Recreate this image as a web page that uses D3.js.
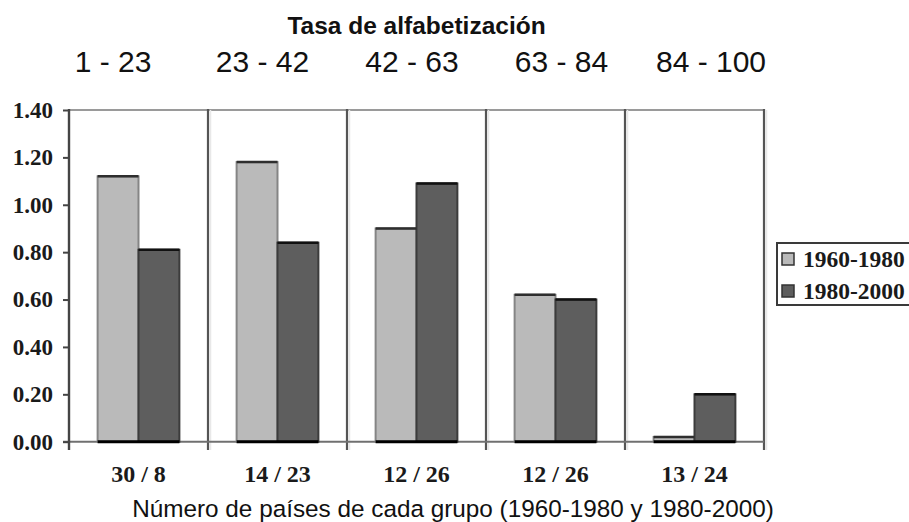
<!DOCTYPE html>
<html>
<head>
<meta charset="utf-8">
<script src="https://cdn.jsdelivr.net/npm/d3@7"></script>
<style>
    html, body { margin: 0; padding: 0; background: #fff; }
    svg { display: block; }
    .serif { font-family: 'Liberation Serif', 'Times New Roman', serif; font-weight: bold; fill: #1a1a1a; }
    .sans { font-family: 'Liberation Sans', Arial, sans-serif; fill: #111; }
</style>
</head>
<body>
<div id="chart"></div>
<script>
'use strict';

// Data
const ranges = ['1 - 23', '23 - 42', '42 - 63', '63 - 84', '84 - 100'];
const groupLabels = ['30 / 8', '14 / 23', '12 / 26', '12 / 26', '13 / 24'];
const seriesNames = ['1960-1980', '1980-2000'];
const values6080 = [1.12, 1.18, 0.90, 0.62, 0.02];
const values8000 = [0.81, 0.84, 1.09, 0.60, 0.20];
const yTicks = [0, 0.2, 0.4, 0.6, 0.8, 1.0, 1.2, 1.4];
const chartTitle = 'Tasa de alfabetización';
const xTitle = 'Número de países de cada grupo (1960-1980 y 1980-2000)';

/*
Bars
 */
class Bars {

    // Configs
    svgW = 909;
    svgH = 522;
    plot = {left: 69, right: 764, top: 110, bottom: 441.7};
    colors = {'1960-1980': '#bababa', '1980-2000': '#5e5e5e'};

    constructor(_target) {
        this.target = _target;
        this.init();
    }

    init() {
        const vis = this;

        vis.svg = d3.select(`#${vis.target}`)
            .append('svg')
            .attr('width', vis.svgW)
            .attr('height', vis.svgH);

        // Scales
        vis.xScale = d3.scaleBand()
            .domain(d3.range(groupLabels.length))
            .range([vis.plot.left, vis.plot.right]);
        vis.subScale = d3.scaleBand()
            .domain(seriesNames)
            .range([0, vis.xScale.bandwidth()])
            .paddingOuter(0.7);
        vis.yScale = d3.scaleLinear()
            .domain([0, 1.4])
            .range([vis.plot.bottom, vis.plot.top]);
        vis.headScale = d3.scalePoint()
            .domain(ranges)
            .range([113, 711]);

        vis.rows = d3.range(groupLabels.length).map(i => ({
            i: i,
            bars: [
                {s: seriesNames[0], v: values6080[i]},
                {s: seriesNames[1], v: values8000[i]}
            ]
        }));

        vis.render();
    }

    render() {
        const vis = this;
        const p = vis.plot;

        // Frame: top line
        vis.svg.append('line')
            .attr('x1', p.left).attr('x2', p.right)
            .attr('y1', p.top).attr('y2', p.top)
            .attr('stroke', '#9a9a9a').attr('stroke-width', 2);

        // Group dividers (with faint ghost line)
        const edges = d3.range(groupLabels.length).map(i => vis.xScale(i) + vis.xScale.bandwidth());
        vis.svg.selectAll('.ghost')
            .data(edges)
            .join('line')
            .attr('class', 'ghost')
            .attr('x1', d => d + 2.5).attr('x2', d => d + 2.5)
            .attr('y1', p.top).attr('y2', 450)
            .attr('stroke', '#e8e8e8').attr('stroke-width', 1.5);
        vis.svg.selectAll('.divider')
            .data(edges)
            .join('line')
            .attr('class', 'divider')
            .attr('x1', d => d).attr('x2', d => d)
            .attr('y1', p.top - 1).attr('y2', 450)
            .attr('stroke', '#555').attr('stroke-width', 2.2);

        // Baseline
        vis.svg.append('line')
            .attr('x1', p.left - 6).attr('x2', p.right)
            .attr('y1', vis.yScale(0)).attr('y2', vis.yScale(0))
            .attr('stroke', '#707070').attr('stroke-width', 2);

        // Bars
        const groups = vis.svg.selectAll('.group')
            .data(vis.rows)
            .join('g')
            .attr('class', 'group')
            .attr('transform', d => `translate(${vis.xScale(d.i)},0)`);

        groups.selectAll('.bar')
            .data(d => d.bars)
            .join('rect')
            .attr('class', 'bar')
            .attr('x', d => vis.subScale(d.s))
            .attr('y', d => vis.yScale(d.v))
            .attr('width', vis.subScale.bandwidth())
            .attr('height', d => vis.yScale(0) - vis.yScale(d.v))
            .attr('fill', d => vis.colors[d.s])
            .attr('stroke', d => d.s === seriesNames[0] ? '#858585' : '#3c3c3c')
            .attr('stroke-width', 2);

        groups.selectAll('.barTop')
            .data(d => d.bars)
            .join('line')
            .attr('class', 'barTop')
            .attr('x1', d => vis.subScale(d.s))
            .attr('x2', d => vis.subScale(d.s) + vis.subScale.bandwidth())
            .attr('y1', d => vis.yScale(d.v))
            .attr('y2', d => vis.yScale(d.v))
            .attr('stroke', d => d.s === seriesNames[0] ? '#2e2e2e' : '#111')
            .attr('stroke-width', 2.5);

        groups.append('line')
            .attr('x1', vis.subScale(seriesNames[0]))
            .attr('x2', vis.subScale(seriesNames[1]) + vis.subScale.bandwidth())
            .attr('y1', vis.yScale(0)).attr('y2', vis.yScale(0))
            .attr('stroke', '#000').attr('stroke-width', 3);

        // Left axis line
        vis.svg.append('line')
            .attr('x1', p.left).attr('x2', p.left)
            .attr('y1', p.top - 1).attr('y2', 450)
            .attr('stroke', '#444').attr('stroke-width', 2.4);

        // Y axis
        const yAxis = d3.axisLeft(vis.yScale)
            .tickValues(yTicks)
            .tickFormat(d3.format('.2f'))
            .tickSize(6)
            .tickPadding(10);
        const yAxisG = vis.svg.append('g')
            .attr('transform', `translate(${p.left},0)`)
            .call(yAxis);
        yAxisG.select('.domain').remove();
        yAxisG.selectAll('line').attr('stroke', '#444').attr('stroke-width', 2);
        yAxisG.selectAll('text')
            .attr('class', 'serif')
            .style('font-size', '23px');

        // X axis (group counts)
        const xAxis = d3.axisBottom(vis.xScale)
            .tickFormat(i => groupLabels[i])
            .tickSize(0)
            .tickPadding(23);
        const xAxisG = vis.svg.append('g')
            .attr('transform', `translate(0,${vis.yScale(0)})`)
            .call(xAxis);
        xAxisG.select('.domain').remove();
        xAxisG.selectAll('text')
            .attr('class', 'serif')
            .style('font-size', '24px');

        // Titles
        vis.svg.append('text')
            .attr('class', 'sans')
            .attr('x', (p.left + p.right) / 2)
            .attr('y', 34)
            .attr('text-anchor', 'middle')
            .style('font-size', '24.5px')
            .style('font-weight', 'bold')
            .text(chartTitle);

        vis.svg.selectAll('.range')
            .data(ranges)
            .join('text')
            .attr('class', 'range sans')
            .attr('x', d => vis.headScale(d))
            .attr('y', 71.5)
            .attr('text-anchor', 'middle')
            .style('font-size', '30px')
            .text(d => d);

        vis.svg.append('text')
            .attr('class', 'sans')
            .attr('x', 453)
            .attr('y', 517)
            .attr('text-anchor', 'middle')
            .style('font-size', '24.3px')
            .text(xTitle);

        // Legend
        const legend = vis.svg.append('g')
            .attr('transform', 'translate(777,243)');
        legend.append('rect')
            .attr('width', 200).attr('height', 62)
            .attr('fill', '#fff')
            .attr('stroke', '#3a3a3a').attr('stroke-width', 2);
        const item = legend.selectAll('.item')
            .data(seriesNames)
            .join('g')
            .attr('class', 'item')
            .attr('transform', (d, i) => `translate(5,${10 + i * 32})`);
        item.append('rect')
            .attr('width', 12).attr('height', 12)
            .attr('fill', d => vis.colors[d])
            .attr('stroke', '#333').attr('stroke-width', 1.5);
        item.append('text')
            .attr('class', 'serif')
            .attr('x', 21)
            .attr('y', 6)
            .attr('dy', '0.34em')
            .style('font-size', '23.5px')
            .text(d => d);
    }
}

new Bars('chart');
</script>
</body>
</html>
